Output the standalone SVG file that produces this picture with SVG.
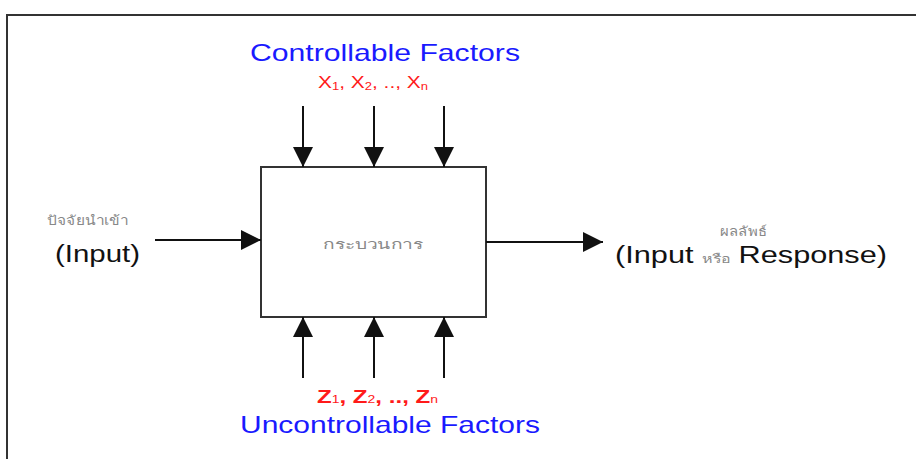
<svg xmlns="http://www.w3.org/2000/svg" width="916" height="459" viewBox="0 0 916 459">
<style>
.frame{stroke:#333;stroke-width:2;fill:none}
.conn line{stroke:#111;stroke-width:2}
.blue{font-family:"Liberation Sans",Arial,sans-serif;fill:#1a1aff;font-size:24px}
.red{font-family:"Liberation Sans",Arial,sans-serif;fill:#ff1a1a}
.en{font-family:"Liberation Sans",Arial,sans-serif;fill:#111;font-size:23px}
.th{font-family:"Noto Sans","DejaVu Sans",sans-serif;fill:#888;font-size:13px}
</style>
<defs>
<marker id="ah" viewBox="0 0 20 20" refX="20" refY="10" markerWidth="20" markerHeight="20" markerUnits="userSpaceOnUse" orient="auto">
<path d="M0,0 L20,10 L0,20 Z" fill="#111"/>
</marker>
</defs>
<rect width="916" height="459" fill="#fff"/>
<path class="frame" d="M916,15 H7 V459"/>
<g id="process">
<rect x="261" y="167" width="225" height="150" fill="#fff" stroke="#333" stroke-width="2"/>
<text class="th" x="373" y="249" text-anchor="middle" textLength="100" lengthAdjust="spacingAndGlyphs">กระบวนการ</text>
</g>
<g id="controllable">
<text class="blue" x="385" y="61" text-anchor="middle" textLength="270" lengthAdjust="spacingAndGlyphs">Controllable Factors</text>
<text class="red" x="318" y="88" font-size="16" textLength="110" lengthAdjust="spacingAndGlyphs">X<tspan font-size="10" dy="2">1</tspan><tspan dy="-2">, X</tspan><tspan font-size="10" dy="2">2</tspan><tspan dy="-2">, .., X</tspan><tspan font-size="10" dy="2">n</tspan></text>
</g>
<g id="uncontrollable">
<text class="red" x="317" y="403" font-size="19" font-weight="bold" textLength="121" lengthAdjust="spacingAndGlyphs">Z<tspan font-size="11" font-weight="normal">1</tspan>, Z<tspan font-size="11" font-weight="normal">2</tspan>, .., Z<tspan font-size="11" font-weight="normal">n</tspan></text>
<text class="blue" x="390" y="433" text-anchor="middle" textLength="300" lengthAdjust="spacingAndGlyphs">Uncontrollable Factors</text>
</g>
<g id="input">
<text class="th" x="47" y="225" textLength="81" lengthAdjust="spacingAndGlyphs">ปัจจัยนำเข้า</text>
<text class="en" x="55" y="262" textLength="85" lengthAdjust="spacingAndGlyphs">(Input)</text>
</g>
<g id="output">
<text class="th" x="720" y="236" textLength="47" lengthAdjust="spacingAndGlyphs">ผลลัพธ์</text>
<text class="en" x="615" y="263" textLength="272" lengthAdjust="spacingAndGlyphs">(Input <tspan font-family="'Noto Sans','DejaVu Sans',sans-serif" font-size="12" fill="#888">หรือ</tspan> Response)</text>
</g>
<g id="connectors" class="conn">
<line x1="303" y1="106" x2="303" y2="167" marker-end="url(#ah)"/>
<line x1="374" y1="106" x2="374" y2="167" marker-end="url(#ah)"/>
<line x1="444" y1="106" x2="444" y2="167" marker-end="url(#ah)"/>
<line x1="303" y1="378" x2="303" y2="317" marker-end="url(#ah)"/>
<line x1="374" y1="378" x2="374" y2="317" marker-end="url(#ah)"/>
<line x1="444" y1="378" x2="444" y2="317" marker-end="url(#ah)"/>
<line x1="155" y1="240" x2="261" y2="240" marker-end="url(#ah)"/>
<line x1="486" y1="242" x2="603" y2="242" marker-end="url(#ah)"/>
</g>
</svg>
